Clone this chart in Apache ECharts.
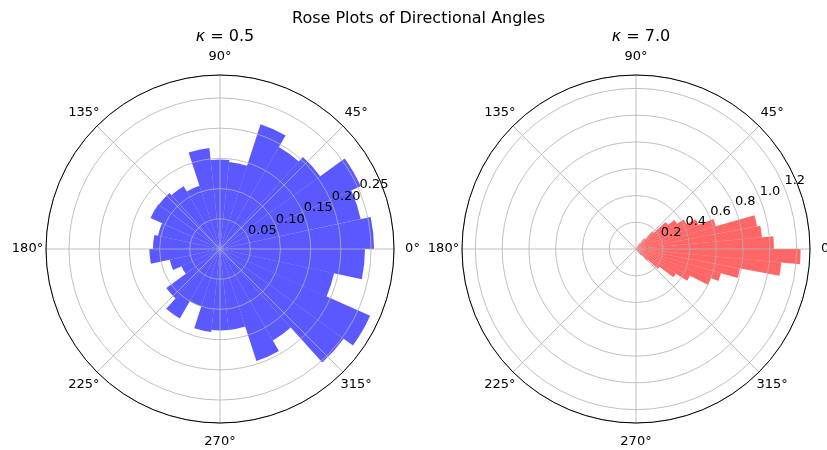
<!DOCTYPE html>
<html>
<head>
<meta charset="utf-8">
<script src="https://cdn.jsdelivr.net/npm/echarts@6/dist/echarts.min.js"></script>
<style>
  html, body { margin: 0; padding: 0; background: #ffffff; }
  #chart { width: 827px; height: 450px; }
</style>
</head>
<body>
<div id="chart"></div>
<script>
// Histogram densities of directional angles (von Mises samples), one value per angular bin,
// bins run counter-clockwise from 0°.
const lowKappaDensity = [
  0.255, 0.238, 0.255, 0.205, 0.195, 0.217, 0.145, 0.148, 0.168, 0.110,
  0.120, 0.125, 0.126, 0.105, 0.111, 0.117, 0.085, 0.070, 0.110, 0.133,
  0.100, 0.138, 0.135, 0.135, 0.195, 0.175, 0.253, 0.272, 0.193, 0.240
];

const highKappaDensity = [
  1.03, 0.945, 0.92, 0.62, 0.50, 0.42, 0.36, 0.30, 0.18, 0.10,
  0.05, 0.02, 0.01, 0, 0, 0, 0, 0, 0, 0,
  0, 0, 0, 0, 0, 0, 0, 0, 0, 0,
  0, 0, 0, 0, 0, 0, 0, 0, 0, 0,
  0, 0, 0, 0, 0, 0, 0, 0, 0, 0,
  0, 0, 0, 0, 0, 0, 0.01, 0.03, 0.06, 0.12,
  0.22, 0.35, 0.45, 0.60, 0.66, 0.79, 1.09, 1.23
];

const angleTickLabels = [0, 45, 90, 135, 180, 225, 270, 315];
const lowKappaRadialTicks = [0.05, 0.10, 0.15, 0.20, 0.25];
const highKappaRadialTicks = [0.2, 0.4, 0.6, 0.8, 1.0, 1.2];
const radialLabelAngle = 22.5;

const panels = [
  { title: '0.5', center: [220, 249], rMax: 0.288, rStep: 0.05, ticks: lowKappaRadialTicks,
    digits: 2, values: lowKappaDensity, color: 'rgba(0, 0, 255, 0.65)' },
  { title: '7.0', center: [636, 249], rMax: 1.30, rStep: 0.2, ticks: highKappaRadialTicks,
    digits: 1, values: highKappaDensity, color: 'rgba(255, 0, 0, 0.6)' }
];

const FONT = 'DejaVu Sans';
const TICK_SIZE = 13;
const RADIUS = 174;
const THETA_LABEL_PAD = 18.5;   // px from the frame to the centre of each degree label
const GRID = '#b0b0b0';

const polar = [], angleAxis = [], radiusAxis = [], series = [];
const title = [{
  text: 'Rose Plots of Directional Angles',
  left: 413.5, top: 6, textAlign: 'center',
  textStyle: { fontFamily: FONT, fontSize: 16, fontWeight: 'normal', color: '#000' }
}];

const off = { show: false };

// text-only scatter used for tick labels placed in polar data coordinates
function labelSeries(polarIndex, points, fmt, placement) {
  return {
    type: 'scatter', coordinateSystem: 'polar', polarIndex, z: 10, clip: false,
    symbolSize: 0, itemStyle: { color: '#000', opacity: 1 }, silent: true,
    data: points,
    label: Object.assign({
      show: true, position: [0, 0], opacity: 1,
      color: '#000', textBorderWidth: 0, textShadowBlur: 0,
      fontFamily: FONT, fontSize: TICK_SIZE, formatter: fmt
    }, placement),
    labelLayout: { hideOverlap: false }
  };
}

panels.forEach((p, k) => {
  const base = k * 2;
  polar.push({ center: p.center, radius: RADIUS }, { center: p.center, radius: RADIUS });

  // bars: one category per angular bin
  const cats = p.values.map((_, i) => 'b' + i);
  angleAxis.push({
    polarIndex: base, type: 'category', data: cats, startAngle: 0, clockwise: false,
    boundaryGap: true, axisLine: off, axisTick: off, axisLabel: off, splitLine: off
  });
  radiusAxis.push({
    polarIndex: base, type: 'value', min: 0, max: p.rMax,
    axisLine: off, axisTick: off, axisLabel: off, splitLine: off
  });
  series.push({
    type: 'bar', coordinateSystem: 'polar', polarIndex: base,
    data: p.values, barCategoryGap: '0%', barGap: '0%',
    itemStyle: { color: p.color }, silent: true
  });

  // grid: degree spokes, rings and the outer frame, drawn over the bars
  angleAxis.push({
    polarIndex: base + 1, type: 'value', min: 0, max: 360, interval: 45,
    startAngle: 0, clockwise: false, z: 5,
    axisLine: { show: true, lineStyle: { color: '#000', width: 1 } },
    axisTick: off, axisLabel: off,
    splitLine: { show: true, lineStyle: { color: GRID, width: 0.8 } }
  });
  radiusAxis.push({
    polarIndex: base + 1, type: 'value', min: 0, max: p.rMax, interval: p.rStep, z: 5,
    axisLine: off, axisTick: off, axisLabel: off,
    splitLine: { show: true, lineStyle: { color: GRID, width: 0.8 } }
  });

  // degree labels centred just outside the frame
  const thetaLabelR = p.rMax * (RADIUS + THETA_LABEL_PAD) / RADIUS;
  series.push(labelSeries(base + 1,
    angleTickLabels.map(a => [thetaLabelR, a]),
    d => d.value[1] + '°',
    { align: 'center', verticalAlign: 'middle' }));

  // radial tick labels sitting on each ring along the 22.5° ray
  series.push(labelSeries(base + 1,
    p.ticks.map(t => [t, radialLabelAngle]),
    d => d.value[0].toFixed(p.digits),
    { align: 'left', verticalAlign: 'bottom' }));

  title.push({
    text: '{k|κ} = ' + p.title,
    left: p.center[0], top: 24, textAlign: 'center',
    textStyle: {
      fontFamily: FONT, fontSize: 16, fontWeight: 'normal', color: '#000',
      rich: { k: { fontFamily: FONT, fontSize: 16, fontStyle: 'italic', color: '#000' } }
    }
  });
});

const chart = echarts.init(document.getElementById('chart'), null, { renderer: 'canvas' });
chart.setOption({
  animation: false,
  backgroundColor: '#ffffff',
  title, polar, angleAxis, radiusAxis, series
});
</script>
</body>
</html>
